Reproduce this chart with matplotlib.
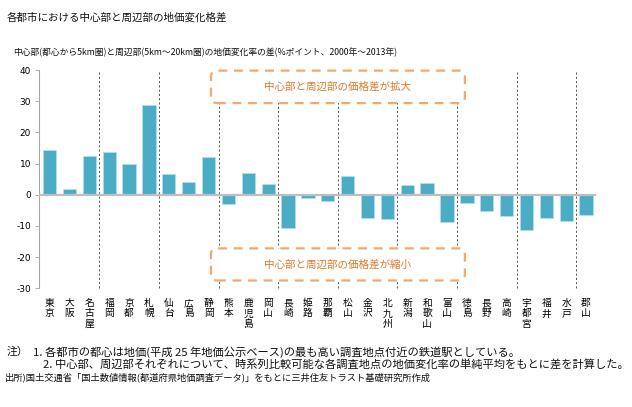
import matplotlib
matplotlib.use("Agg")
import matplotlib.pyplot as plt
from matplotlib.patches import FancyBboxPatch

plt.rcParams['font.family'] = ['Noto Sans CJK JP', 'DejaVu Sans']

cities = ["東京", "大阪", "名古屋", "福岡", "京都", "札幌", "仙台", "広島", "静岡",
          "熊本", "鹿児島", "岡山", "長崎", "姫路", "那覇", "松山", "金沢", "北九州",
          "新潟", "和歌山", "富山", "徳島", "長野", "高崎", "宇都宮", "福井", "水戸", "郡山"]
values = [14.2, 1.9, 12.3, 13.7, 9.7, 28.7, 6.6, 4.0, 12.1,
          -3.0, 7.1, 3.5, -10.6, -1.1, -1.9, 6.0, -7.5, -7.7,
          3.2, 3.7, -8.8, -2.5, -5.1, -6.8, -11.2, -7.5, -8.4, -6.4]
yticks = [40, 30, 20, 10, 0, -10, -20, -30]

title = "各都市における中心部と周辺部の地価変化格差"
subtitle = "中心部(都心から5km圏)と周辺部(5km～20km圏)の地価変化率の差(%ポイント、2000年～2013年)"
label_up = "中心部と周辺部の価格差が拡大"
label_down = "中心部と周辺部の価格差が縮小"
note_head = "注）"
note1 = "1. 各都市の都心は地価(平成 25 年地価公示ベース)の最も高い調査地点付近の鉄道駅としている。"
note2 = "2. 中心部、周辺部それぞれについて、時系列比較可能な各調査地点の地価変化率の単純平均をもとに差を計算した。"
source = "出所)国土交通省「国土数値情報(都道府県地価調査データ)」をもとに三井住友トラスト基礎研究所作成"

W, H = 632, 407
fig = plt.figure(figsize=(W / 100, H / 100), dpi=100)
ax = fig.add_axes([39.3 / W, 1 - 288.3 / H, (596 - 39.3) / W, (288.3 - 70) / H])

x = list(range(len(cities)))
ax.bar(x, values, width=0.67, color="#4BACC6", edgecolor="#B7DEE8", linewidth=0.5, zorder=3)
ax.axhline(0, color="#BFBFBF", lw=1.6, zorder=4)

ax.set_xlim(-0.52, len(cities) - 0.5)
ax.set_ylim(-30, 40)
ax.set_yticks(yticks)
ax.set_yticklabels([str(v) for v in yticks], fontsize=6.5, family='DejaVu Sans')
ax.tick_params(axis='y', length=3, width=0.6, color="#A6A6A6", pad=3)
ax.set_xticks(x)
ax.set_xticklabels(["\n".join(c) for c in cities], fontsize=7, linespacing=1.05, va='top')
ax.tick_params(axis='x', length=0, pad=7)

for s in ["top", "right", "bottom"]:
    ax.spines[s].set_visible(False)
ax.spines["left"].set_color("#A6A6A6")
ax.spines["left"].set_linewidth(0.8)

# group separators
for k in range(2, len(cities) - 1, 3):
    ax.plot([k + 0.5, k + 0.5], [-30, 40], color="#595959", lw=0.7,
            ls=(0, (2.2, 2.2)), zorder=1, clip_on=False)

# annotation boxes
orange = "#F4A86A"
xs0, xs1 = 8.12, 20.9
aspect = (19.86) / (3.119)
for (y0, y1, txt) in [(29.4, 39.8, label_up), (-27.5, -17.2, label_down)]:
    box = FancyBboxPatch((xs0, y0), xs1 - xs0, y1 - y0,
                         boxstyle="round,pad=0,rounding_size=0.3",
                         mutation_aspect=aspect,
                         facecolor="white", edgecolor=orange, lw=1.6,
                         ls=(0, (4, 3)), zorder=5, clip_on=False)
    ax.add_patch(box)
    ax.text((xs0 + xs1) / 2, (y0 + y1) / 2, txt, ha='center', va='center',
            fontsize=7.6, color="#E0782A", zorder=6)

fig.text(7 / W, 1 - 18 / H, title, fontsize=7.6, va='center', ha='left', color="#111111")
fig.text(12.7 / W, 1 - 52.3 / H, subtitle, fontsize=6.3, va='center', ha='left', color="#111111")
fig.text(7 / W, 1 - 352 / H, note_head, fontsize=7.8, va='center', ha='left', color="#111111")
fig.text(33 / W, 1 - 352 / H, note1, fontsize=8.1, va='center', ha='left', color="#111111")
fig.text(43 / W, 1 - 364.5 / H, note2, fontsize=8.1, va='center', ha='left', color="#111111")
fig.text(5 / W, 1 - 377 / H, source, fontsize=6.7, va='center', ha='left', color="#111111")

fig.savefig("out.png", dpi=100, facecolor="white")
